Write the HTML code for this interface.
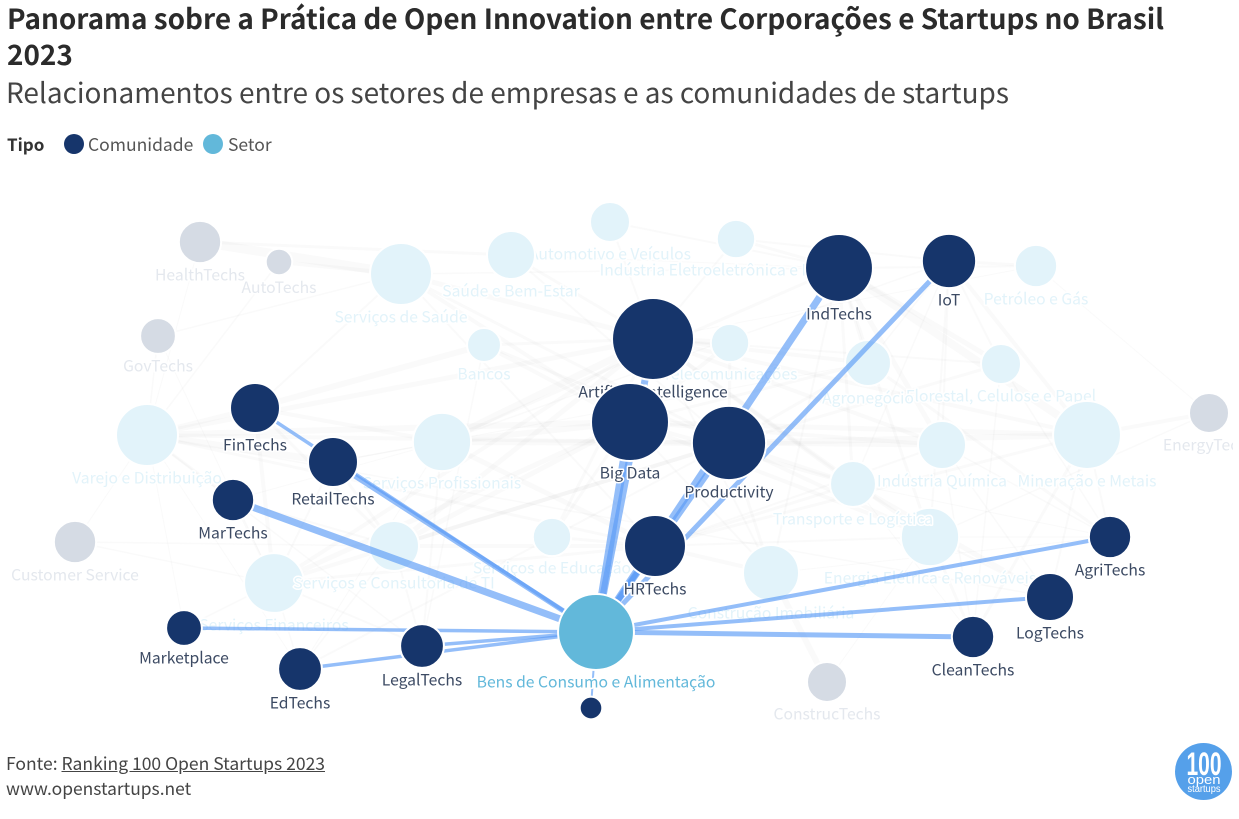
<!DOCTYPE html>
<html lang="pt-BR">
<head>
<meta charset="utf-8">
<title>Panorama sobre a Prática de Open Innovation</title>
<style>
html,body{margin:0;padding:0;background:#fff;}
body{width:1239px;height:819px;position:relative;overflow:hidden;font-family:"Noto Sans CJK SC","Liberation Sans",sans-serif;color:#333;}
.abs{position:absolute;white-space:nowrap;}
#title{left:7px;top:0;width:1200px;font-size:27.9px;font-weight:700;line-height:36px;color:#2b2b2b;white-space:normal;}
#subtitle{left:6px;top:73px;font-size:27.95px;line-height:38px;color:#444;}
#legend-title{left:7px;top:132px;font-size:17px;font-weight:700;line-height:24px;}
.leg{font-size:17.5px;line-height:24px;top:133px;color:#555;}
.dot{position:absolute;top:134px;width:20px;height:20px;border-radius:50%;}
#src{left:6px;top:752px;font-size:17.5px;line-height:24px;color:#444;}
#src a{color:#444;text-decoration:underline;}
#web{left:6px;top:777px;font-size:17.4px;line-height:24px;color:#444;}
#chart{position:absolute;left:0;top:0;}
</style>
</head>
<body>
<div class="abs" id="title">Panorama sobre a Prática de Open Innovation entre Corporações e Startups no Brasil 2023</div>
<div class="abs" id="subtitle">Relacionamentos entre os setores de empresas e as comunidades de startups</div>
<div class="abs" id="legend-title">Tipo</div>
<div class="dot" style="left:64px;background:#16356b"></div>
<div class="abs leg" style="left:88px">Comunidade</div>
<div class="dot" style="left:203px;background:#62b8da"></div>
<div class="abs leg" style="left:228px">Setor</div>

<svg id="chart" width="1233" height="819" viewBox="0 0 1233 819"></svg>

<div class="abs" id="src">Fonte: <a href="#">Ranking 100 Open Startups 2023</a></div>
<div class="abs" id="web">www.openstartups.net</div>

<svg class="abs" style="left:1172px;top:742px" width="62" height="62" viewBox="0 0 62 62">
  <circle cx="31.5" cy="29.5" r="28.5" fill="#55a0ea"></circle>
  <text x="32" y="33" text-anchor="middle" font-family="'Liberation Sans',sans-serif" font-weight="700" font-size="32" fill="#fff" textLength="35" lengthAdjust="spacingAndGlyphs">100</text>
  <text x="32" y="42" text-anchor="middle" font-family="'Liberation Sans',sans-serif" font-size="13" fill="#fff" textLength="33" lengthAdjust="spacingAndGlyphs">open</text>
  <text x="32" y="50" text-anchor="middle" font-family="'Liberation Sans',sans-serif" font-size="10" fill="#fff" textLength="33" lengthAdjust="spacingAndGlyphs">startups</text>
</svg>

<script>
// Node data: ids, labels, type (C = comunidade, S = setor), weight, force-layout coordinates (origin-centred)
const nodeIds = ['AV','SB','SA','IE','BA','TE','FC','AN','PG','MM','IQ','EE','TL','SP','VD','SF','TI','SE','CI',
  'HE','AU','GO','CU','CO','EN',
  'BC','XX','AI','BD','PR','IN','IO','HR','FI','RE','MA','MK','ED','LE','CL','LO','AG'];
const nodeLabels = ['Automotivo e Veículos','Saúde e Bem-Estar','Serviços de Saúde','Indústria Eletroeletrônica e Máquinas','Bancos','Telecomunicações','Florestal, Celulose e Papel','Agronegócio','Petróleo e Gás','Mineração e Metais','Indústria Química','Energia Elétrica e Renováveis','Transporte e Logística','Serviços Profissionais','Varejo e Distribuição','Serviços Financeiros','Serviços e Consultoria de TI','Serviços de Educação','Construção Imobiliária',
  'HealthTechs','AutoTechs','GovTechs','Customer Service','ConstrucTechs','EnergyTechs',
  'Bens de Consumo e Alimentação','','Artificial Intelligence','Big Data','Productivity','IndTechs','IoT','HRTechs','FinTechs','RetailTechs','MarTechs','Marketplace','EdTechs','LegalTechs','CleanTechs','LogTechs','AgriTechs'];
const nodeTypes = ['S','S','S','S','S','S','S','S','S','S','S','S','S','S','S','S','S','S','S',
  'C','C','C','C','C','C',
  'S','C','C','C','C','C','C','C','C','C','C','C','C','C','C','C','C'];
const nodeWeights = [25,36,60,23,18,23,25,33,28,72,36,53,33,53,60,56,39,23,49,
  28,11,20,28,25,25,
  90,8,105,95,86,72,46,60,39,39,28,20,30,30,28,36,28];
const layoutX = [-10,-109,-219,116,-136,110,381,248,416,467,322,310,233,-178,-473,-346,-226,-68,151,
  -420,-341,-462,-545,207,589,
  -24,-29,33,10,109,219,329,35,-365,-287,-387,-436,-320,-198,353,430,490];
const layoutY = [-228,-195,-176,-211,-105,-107,-86,-87,-184,-15,-5,87,34,-8,-15,133,96,87,123,
  -208,-188,-114,92,232,-37,
  182,258,-111,-28,-7,-182,-189,96,-42,12,50,178,219,196,187,147,87];

// Highlighted relationships of the selected sector
const focusNode = 'BC';
const focusTargets = ['AI','BD','PR','IN','IO','HR','FI','RE','MA','MK','ED','LE','CL','LO','AG','XX'];
const focusWeights = [7,8,6,7,5,6,3.5,5,7,3.5,3.5,3.5,5,4,4,2];

// Background relationships: source, target, weight
const bgLinks = [
['HE','SA',9],['HE','SB',3],['HE','VD',1],['AU','SA',4],['AU','VD',1.5],['GO','SA',1.5],['GO','VD',1.5],['GO','SF',1],
['FI','BA',6],['FI','SF',4],['FI','SP',4],['FI','VD',5],['FI','TI',3],['FI','SA',2],
['AI','SP',7],['AI','TI',5],['AI','BA',3],['AI','SA',5],['AI','SB',3],['AI','TE',6],['AI','IE',2],['AI','AN',4],['AI','MM',4],['AI','VD',5],['AI','IQ',4],['AI','EE',4],['AI','TL',4],['AI','SF',4],['AI','SE',3],['AI','CI',2],['AI','FC',2],['AI','PG',1],['AI','AV',2],
['BD','SP',6],['BD','VD',6],['BD','TI',5],['BD','MM',5],['BD','BA',4],['BD','SA',4],['BD','AN',3],['BD','IQ',4],['BD','EE',4],['BD','TL',4],['BD','SF',5],['BD','TE',4],['BD','SE',3],['BD','CI',2],
['PR','SP',6],['PR','VD',4],['PR','MM',6],['PR','IQ',5],['PR','TI',4],['PR','EE',4],['PR','TL',4],['PR','AN',3],['PR','SF',4],['PR','SA',3],['PR','BA',3],['PR','CI',3],['PR','FC',3],['PR','TE',3],['PR','SE',2],['PR','SB',2],
['IN','MM',8],['IN','IQ',5],['IN','FC',5],['IN','AN',3],['IN','IE',3],['IN','AV',2],['IN','TL',3],['IN','EE',3],['IN','PG',2],['IN','CI',2],['IN','SP',3],['IN','SB',1],['IN','SA',1.5],
['IO','MM',4],['IO','FC',2],['IO','PG',3],['IO','IQ',2],['IO','AN',1.5],['IO','IE',2],['IO','EE',2],['IO','SP',1.5],['IO','TL',1.5],
['HR','SP',5],['HR','TI',4],['HR','VD',3],['HR','MM',3],['HR','CI',4],['HR','TL',3],['HR','EE',2],['HR','SF',3],['HR','SE',3],['HR','IQ',2],['HR','SA',2],
['RE','VD',7],['RE','TI',3],['RE','SP',1.5],['RE','SF',2],['RE','AN',1],
['MA','VD',3],['MA','SF',2],['MA','TI',2],['MA','SP',1],
['MK','VD',1],['MK','SF',1.5],
['ED','SE',2],['ED','TI',1.5],['ED','SF',1.5],['ED','SP',1],['ED','VD',1],
['LE','SP',2],['LE','TI',2],['LE','SF',2],['LE','BA',1.5],['LE','VD',1.5],
['CL','MM',3],['CL','EE',3],['CL','IQ',1.5],['CL','TL',1],['CL','FC',1.5],
['LO','TL',5],['LO','MM',2],['LO','VD',1.5],['LO','IQ',1.5],['LO','EE',2],
['AG','AN',3],['AG','MM',2],['AG','IQ',1.5],['AG','FC',1.5],['AG','EE',1.5],['AG','CI',1],['AG','TL',1],
['CU','TI',1.5],['CU','SF',1.5],['CU','VD',1],
['CO','CI',6],['CO','EE',1],
['EN','MM',4],['EN','PG',1],['EN','EE',1.5]
];

// Axis functions
const plotOriginX = 620, plotOriginY = 450;
function scaleX(v){ return plotOriginX + v; }
function scaleY(v){ return plotOriginY + v; }
function scaleR(w){ return 4 * Math.sqrt(w); }
function scaleW(w){ return w; }

const SVGNS = 'http://www.w3.org/2000/svg';
const chart = document.getElementById('chart');
function mk(tag, parent){ const e = document.createElementNS(SVGNS, tag); parent.appendChild(e); return e; }
function idx(id){ return nodeIds.indexOf(id); }
function slug(s){ return s.toLowerCase().normalize('NFD').replace(/[\u0300-\u036f]/g,'').replace(/[^a-z0-9]+/g,'-').replace(/^-|-$/g,''); }
function isFocus(id){ return id === focusNode || focusTargets.indexOf(id) >= 0; }

function drawLink(parent, a, b, w, color, op, name){
  const i = idx(a), j = idx(b);
  const l = mk('line', parent);
  l.setAttribute('x1', scaleX(layoutX[i]));
  l.setAttribute('y1', scaleY(layoutY[i]));
  l.setAttribute('x2', scaleX(layoutX[j]));
  l.setAttribute('y2', scaleY(layoutY[j]));
  l.setAttribute('stroke', color);
  l.setAttribute('stroke-opacity', op);
  l.setAttribute('stroke-width', scaleW(w));
  
  
}

function drawNode(parent, i){
  const id = nodeIds[i], focus = isFocus(id), isSector = nodeTypes[i] === 'S';
  const base = isSector ? (focus ? '#62b8da' : '#e2f3fa') : (focus ? '#16356b' : '#d5dbe4');
  const labelColor = isSector ? (focus ? '#62b8da' : '#e2f3fa') : (focus ? '#3c4a63' : '#e4e8ee');
  const name = slug(nodeLabels[i]) || 'unlabelled-community';
  const g = mk('g', parent);
  
  
  const r = scaleR(nodeWeights[i]);
  const c = mk('circle', g);
  c.setAttribute('cx', scaleX(layoutX[i]));
  c.setAttribute('cy', scaleY(layoutY[i]));
  c.setAttribute('r', r);
  c.setAttribute('fill', base);
  c.setAttribute('stroke', '#fff');
  c.setAttribute('stroke-width', 2);
  
  
  if (nodeLabels[i]) {
    const t = mk('text', g);
    t.setAttribute('x', scaleX(layoutX[i]));
    t.setAttribute('y', scaleY(layoutY[i]) + r + 17.5);
    t.setAttribute('text-anchor', 'middle');
    t.setAttribute('font-size', 15.7);
    t.setAttribute('fill', labelColor);
    t.setAttribute('stroke', '#fff');
    t.setAttribute('stroke-width', 3);
    t.setAttribute('paint-order', 'stroke');
    t.setAttribute('stroke-linejoin', 'round');
    
    
    t.textContent = nodeLabels[i];
  }
}

const bgLinkLayer = mk('g', chart);


bgLinks.forEach(function(d){
  drawLink(bgLinkLayer, d[0], d[1], d[2], '#8c8c8c', 0.045, 'link-' + d[0].toLowerCase() + '-' + d[1].toLowerCase());
});

const bgNodeLayer = mk('g', chart);


nodeIds.forEach(function(id, i){ if (!isFocus(id)) drawNode(bgNodeLayer, i); });

const focusLinkLayer = mk('g', chart);


focusTargets.forEach(function(id, k){
  drawLink(focusLinkLayer, focusNode, id, focusWeights[k], '#5a9bf6', 0.65, 'highlight-link-' + id.toLowerCase());
});

const focusNodeLayer = mk('g', chart);


nodeIds.forEach(function(id, i){ if (isFocus(id)) drawNode(focusNodeLayer, i); });
</script>
</body>
</html>
